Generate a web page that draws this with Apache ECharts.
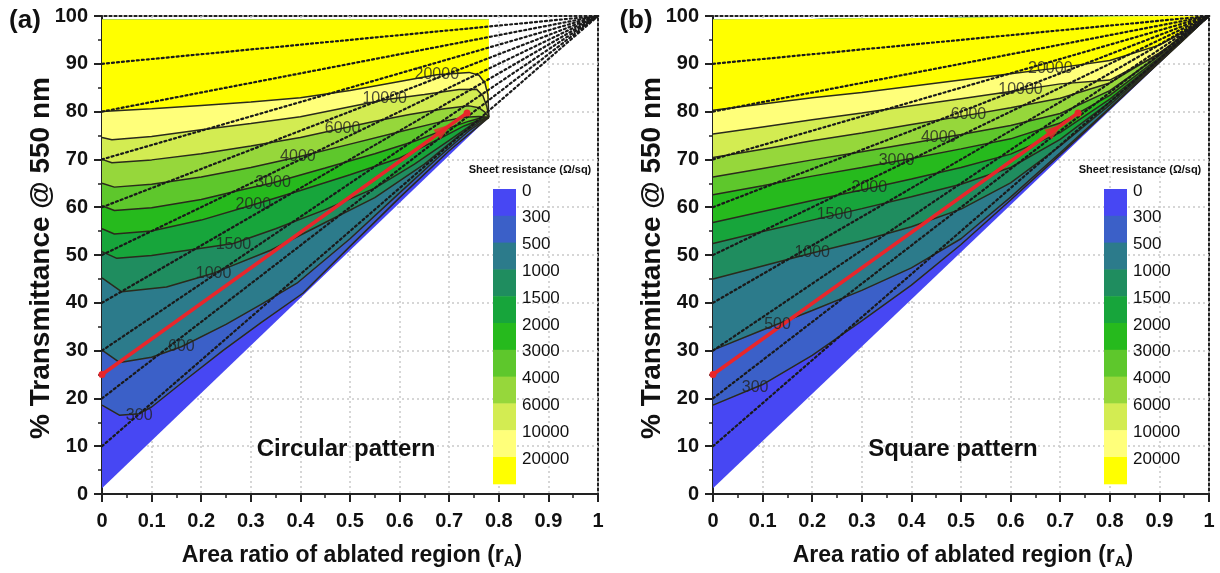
<!DOCTYPE html>
<html><head><meta charset="utf-8">
<script src="https://cdn.jsdelivr.net/npm/echarts@6/dist/echarts.min.js"></script>
<style>html,body{margin:0;padding:0;background:#fff}#c{width:1220px;height:573px}</style>
</head><body><div id="c"></div>
<script>
// ---------- data ----------
const levelLabels = ['0','300','500','1000','1500','2000','3000','4000','6000','10000','20000'];
const bandColors = ['#4747F3','#3B60C8','#2C7B8B','#1F8D5F','#17A53B','#26BA1D','#5EC72C','#96D73B','#D3EC52','#FFFF7A','#FFFF00'];
const dottedT0 = [10,20,30,40,50,60,70,80,90];
const arrowPath = [[0,25],[0.736,79.7]];
const arrowHead = [0.69,76.3];

// circular pattern contours [rA, T]
const circ300 = [[0,18.6],[0.035,16.5],[0.075,16.8],[0.1,18.2],[0.17,24.0],[0.245,30.1],[0.32,35.8],[0.405,42.0],[0.5,51.8],[0.6,62.0],[0.7,71.8],[0.78,78.8]];
const circ500 = [[0,30.1],[0.036,27.5],[0.1,28.6],[0.16,30.8],[0.25,35.5],[0.32,39.6],[0.393,44.1],[0.5,53.4],[0.6,63.0],[0.68,70.6],[0.74,76.0],[0.78,78.8]];
const circ1000 = [[0,45.2],[0.04,42.3],[0.13,43.3],[0.225,46.2],[0.34,51.0],[0.45,56.8],[0.55,62.0],[0.65,69.0],[0.72,75.0],[0.76,77.8],[0.78,78.8]];
const circ1500 = [[0,50.7],[0.03,49.3],[0.1,49.9],[0.2,51.4],[0.265,52.4],[0.35,55.5],[0.45,59.5],[0.55,64.0],[0.63,69.0],[0.7,74.0],[0.75,77.6],[0.78,78.8]];
const circ2000 = [[0,55.5],[0.025,54.4],[0.1,55.0],[0.2,57.3],[0.305,60.5],[0.4,63.5],[0.5,66.8],[0.6,70.3],[0.68,74.3],[0.73,77.0],[0.76,78.2],[0.78,78.8]];
const circ3000 = [[0,60.3],[0.025,59.3],[0.1,59.9],[0.2,61.6],[0.28,63.6],[0.345,65.1],[0.45,68.2],[0.55,71.2],[0.63,73.8],[0.7,76.6],[0.74,78.0],[0.765,78.7],[0.78,78.8]];
const circ4000 = [[0,65.0],[0.025,64.2],[0.1,64.8],[0.2,66.3],[0.3,68.3],[0.395,70.5],[0.5,73.2],[0.6,75.8],[0.68,77.8],[0.73,78.8],[0.76,79.0],[0.78,78.8]];
const circ6000 = [[0,70.0],[0.02,69.3],[0.1,69.9],[0.2,71.2],[0.3,72.8],[0.4,74.6],[0.485,76.5],[0.55,78.0],[0.62,79.4],[0.69,80.6],[0.74,81.2],[0.76,80.8],[0.772,79.9],[0.78,78.8]];
const circ10000 = [[0,74.6],[0.02,74.1],[0.1,74.8],[0.2,76.2],[0.3,77.5],[0.4,78.9],[0.5,81.0],[0.57,82.5],[0.65,83.6],[0.72,84.6],[0.755,84.7],[0.768,83.3],[0.776,81.0],[0.78,78.8]];
const circ20000 = [[0,80.0],[0.1,80.6],[0.2,81.3],[0.3,82.0],[0.4,82.9],[0.5,84.4],[0.6,86.3],[0.675,87.7],[0.74,88.2],[0.76,87.6],[0.772,86.0],[0.778,83.5],[0.78,78.8]];
const circDomain = [[0,1.2],[0.78,78.8],[0.78,99.2],[0,99.2]];
const circLabels = [[0.075,16.5,'300'],[0.16,30.8,'600'],[0.225,46.2,'1000'],[0.265,52.1,'1500'],[0.305,60.5,'2000'],[0.345,65.1,'3000'],[0.395,70.5,'4000'],[0.485,76.5,'6000'],[0.57,82.8,'10000'],[0.675,87.7,'20000']];

// square pattern contours: T values at rA grid
const sqX = [0,0.1,0.2,0.3,0.4,0.5,0.6,0.7,0.8,0.9,0.95,1];
const sq300   = [18.6,22.9,29.0,36.2,43.7,52.2,61.5,71.0,80.6,90.3,95.1,100];
const sq500   = [30.1,34.3,38.4,42.6,47.3,53.4,62.1,71.4,80.8,90.4,95.2,100];
const sq1000  = [45.0,47.7,50.4,53.0,55.9,59.6,65.1,72.8,81.4,90.6,95.3,100];
const sq1500  = [52.4,54.9,57.3,59.7,62.2,64.8,68.3,74.2,82.0,90.8,95.4,100];
const sq2000  = [56.8,59.1,61.4,63.6,65.9,68.3,71.1,75.6,82.6,91.0,95.4,100];
const sq3000  = [62.6,64.5,66.5,68.3,70.2,72.2,74.3,77.6,83.4,91.3,95.6,100];
const sq4000  = [66.3,68.1,69.9,71.6,73.4,75.2,77.1,79.6,84.4,91.7,95.7,100];
const sq6000  = [70.4,72.1,73.9,75.5,77.3,79.0,80.8,82.8,86.0,92.3,96.0,100];
const sq10000 = [75.3,76.8,78.3,79.7,81.2,82.7,84.2,85.8,86.6,92.0,96.3,100];
const sq20000 = [80.3,81.6,82.9,84.0,85.3,86.6,87.9,89.2,90.7,93.9,96.7,100];
const sqDomain = [[0,1.2],[1,100],[0,99.2]];
const sqLabels = [[0.085,22.2,'300'],[0.13,35.4,'500'],[0.2,50.4,'1000'],[0.245,58.4,'1500'],[0.315,64.0,'2000'],[0.37,69.7,'3000'],[0.455,74.5,'4000'],[0.515,79.3,'6000'],[0.62,84.5,'10000'],[0.68,88.9,'20000']];

// ---------- build ----------
const FONT = '"Liberation Sans", Arial, sans-serif';
const circContours = [circ300,circ500,circ1000,circ1500,circ2000,circ3000,circ4000,circ6000,circ10000,circ20000];
const sqContours = [sq300,sq500,sq1000,sq1500,sq2000,sq3000,sq4000,sq6000,sq10000,sq20000].map(a => a.map((t,i)=>[sqX[i],t]));

function polys(domain, contours, topRight, topLeft){
  const out = [domain];
  contours.forEach(c => out.push(c.concat([topRight, topLeft])));
  return out;
}
const panels = [
  {polys: polys(circDomain, circContours, [0.78,99.2], [0,99.2]), contours: circContours, labels: circLabels},
  {polys: polys(sqDomain, sqContours, [1,100], [0,99.2]), contours: sqContours, labels: sqLabels}
];

const series = [];
panels.forEach((p, gi) => {
  series.push({
    type:'custom', xAxisIndex:gi, yAxisIndex:gi, silent:true, z:1, clip:false,
    data: p.polys.map(() => [0.5,50]),
    renderItem: (params, api) => {
      const pts = p.polys[params.dataIndex].map(q => api.coord(q));
      return {type:'polygon', shape:{points:pts}, style:{fill: bandColors[params.dataIndex], stroke:null}};
    }
  });
  p.contours.forEach(c => series.push({
    type:'line', xAxisIndex:gi, yAxisIndex:gi, data:c, symbol:'none', silent:true, z:3,
    lineStyle:{color:'#2a2a1c', width:1.5}
  }));
  dottedT0.forEach(t0 => series.push({
    type:'line', xAxisIndex:gi, yAxisIndex:gi, data:[[0,t0],[1,100]], symbol:'none', silent:true, z:4,
    lineStyle:{color:'#1a1a1a', width:2.2, type:[2,3], cap:'round'}
  }));
  series.push({
    type:'line', xAxisIndex:gi, yAxisIndex:gi, data:arrowPath, symbol:'circle', symbolSize:7, silent:true, z:5,
    itemStyle:{color:'#E8262B'}, lineStyle:{color:'#E8262B', width:3.5}
  });
  series.push({
    type:'scatter', xAxisIndex:gi, yAxisIndex:gi, data:[arrowHead], symbol:'triangle', symbolSize:[12,18],
    symbolRotate:-54.3, silent:true, z:6, itemStyle:{color:'#E8262B'}
  });
  series.push({
    type:'scatter', xAxisIndex:gi, yAxisIndex:gi, data:p.labels, symbolSize:0, silent:true, z:7,
    label:{show:true, position:'inside', formatter: d => d.data[2], fontSize:16, color:'#222', fontFamily:FONT}
  });
});

function xAx(gi){
  return {gridIndex:gi, type:'value', min:0, max:1, interval:0.1,
    axisLine:{lineStyle:{color:'#222', width:2}},
    axisTick:{length:8, lineStyle:{color:'#222', width:2}},
    minorTick:{show:true, splitNumber:2, length:4, lineStyle:{color:'#222', width:1.5}},
    splitLine:{show:true, lineStyle:{color:'#c9c9c9', width:1.5, type:[2,3]}},
    axisLabel:{fontSize:20, fontWeight:'bold', color:'#111', margin:17, fontFamily:FONT}};
}
function yAx(gi){
  return {gridIndex:gi, type:'value', min:0, max:100, interval:10,
    axisLine:{lineStyle:{color:'#222', width:2}},
    axisTick:{length:8, lineStyle:{color:'#222', width:2}},
    minorTick:{show:true, splitNumber:2, length:4, lineStyle:{color:'#222', width:1.5}},
    splitLine:{show:true, lineStyle:{color:'#c9c9c9', width:1.5, type:[2,3]}},
    axisLabel:{fontSize:20, fontWeight:'bold', color:'#111', margin:14, fontFamily:FONT}};
}

const graphic = [];
function colorbar(barX, titleX){
  const top = 189, h = 26.8;
  graphic.push({type:'text', x:titleX, y:170, z:100, style:{text:'Sheet resistance (Ω/sq)', font:'bold 11px '+FONT, fill:'#111', textAlign:'center', textVerticalAlign:'middle'}});
  bandColors.forEach((c,i) => {
    graphic.push({type:'rect', shape:{x:barX, y:top+h*i, width:23, height:h+0.5}, style:{fill:c}, z:100});
    graphic.push({type:'text', x:barX+29, y:top+h*i+2, z:100, style:{text:levelLabels[i], font:'17px '+FONT, fill:'#111', textVerticalAlign:'middle'}});
  });
}
colorbar(493, 530);
colorbar(1104, 1140);
function txt(t, x, y, font, rot){
  graphic.push({type:'text', x:x, y:y, rotation:rot||0, z:100, style:{text:t, font:font, fill:'#111', textAlign:'center', textVerticalAlign:'middle'}});
}
txt('(a)', 25, 21, 'bold 26px '+FONT);
txt('(b)', 636, 21, 'bold 26px '+FONT);
txt('% Transmittance @ 550 nm', 41, 258, 'bold 28px '+FONT, Math.PI/2);
txt('% Transmittance @ 550 nm', 652, 258, 'bold 28px '+FONT, Math.PI/2);
txt('Circular pattern', 346, 449, 'bold 24px '+FONT);
txt('Square pattern', 953, 449, 'bold 24px '+FONT);
[352, 963].forEach(cx => graphic.push({type:'text', x:cx, y:556, z:100, style:{
  text:'Area ratio of ablated region (r{s|A})', font:'bold 23px '+FONT, fill:'#111', textAlign:'center', textVerticalAlign:'middle',
  rich:{s:{font:'bold 15px '+FONT, fill:'#111', padding:[12,0,0,0]}}}}));

const chart = echarts.init(document.getElementById('c'), null, {renderer:'canvas'});
chart.setOption({
  animation:false, backgroundColor:'#fff',
  grid:[
    {left:102, top:16, width:496, height:478, show:true, borderColor:'#222', borderWidth:2, backgroundColor:'transparent'},
    {left:713, top:16, width:496, height:478, show:true, borderColor:'#222', borderWidth:2, backgroundColor:'transparent'}
  ],
  xAxis:[xAx(0), xAx(1)],
  yAxis:[yAx(0), yAx(1)],
  series: series,
  graphic: graphic
});
</script></body></html>
